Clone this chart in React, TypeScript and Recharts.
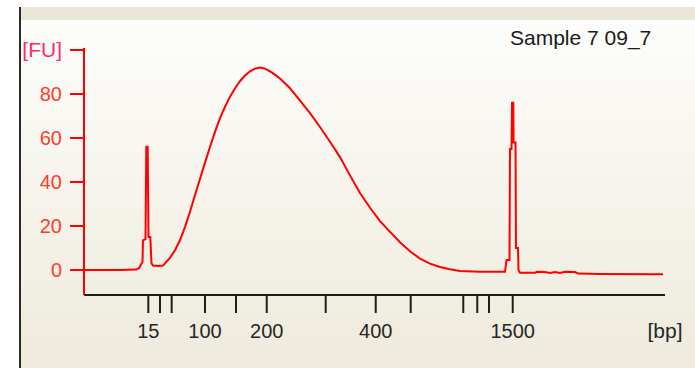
import React from 'react';
import { LineChart, Line, XAxis, YAxis, Label } from 'recharts';

// Ladder (bp) sizes and their migration positions (time units along the x axis)
const ladderSizes = [15, 25, 50, 100, 150, 200, 300, 400, 500, 700, 850, 1000, 1500];
const ladderTimes = [11.07, 13.08, 15.09, 20.83, 26.16, 31.45, 41.6, 50.21, 56.23, 65.28, 67.69, 69.71, 73.79];
const labeledSizes = [15, 100, 200, 400, 1500];
const fuTicks = [0, 20, 40, 60, 80, 100];

// Electropherogram trace: migration time and fluorescence units
const times = [
  0, 2.75, 6.2, 8.95, 9.47, 9.81, 10.07, 10.15, 10.59, 10.72, 10.96, 11.1, 11.41, 11.62, 11.88,
  12.74, 13.6, 13.94, 14.8, 15.66, 16.52, 17.38, 18.24, 19.1, 19.97, 20.83, 21.69, 22.55, 23.41,
  24.27, 25.13, 25.99, 26.85, 27.71, 28.57, 29.43, 30.29, 31.15, 32.01, 32.87, 33.73, 35.46, 37.18,
  38.9, 40.62, 42.34, 44.06, 45.78, 47.5, 49.23, 50.95, 52.67, 54.39, 56.11, 57.83, 59.55, 61.27,
  62.99, 64.72, 68.16,
  72.46, 72.72, 73.24, 73.32, 73.58, 73.67, 73.89, 73.94, 74.27, 74.35, 74.7, 74.78, 75.04, 77.62,
  77.97, 79.35, 80.21, 81.07, 81.93, 82.79, 84.51, 85.03, 88.81, 99.66,
];
const fuValues = [
  0, 0, 0, 0.2, 0.8, 2.5, 3.5, 13.5, 14, 56, 56, 15, 15, 3, 2,
  1.8, 2, 3, 5.5, 9, 13.5, 19.5, 26.5, 34, 41.5, 48.8, 56, 62.8, 69,
  74.2, 78.8, 82.6, 85.8, 88.4, 90.3, 91.5, 92, 91.5, 90.3, 88.8, 87, 82.6, 77,
  71.3, 65, 58.3, 51.3, 43, 35, 28.3, 22.2, 17.3, 12.6, 8.5, 5.2, 2.9, 1.4,
  0.3, -0.5, -0.8,
  -0.8, 4.5, 4.5, 55, 55, 76, 76, 58, 58, 10, 10, 0, -1.3, -1.3,
  -0.8, -0.9, -1.3, -0.9, -1.3, -0.8, -0.9, -1.6, -1.8, -1.9,
];

const data = times.map((t, i) => ({ t, fu: fuValues[i] }));

const FONT = '"Liberation Sans", Arial, sans-serif';

const YTick = (props: any) => {
  const { x, y, payload } = props;
  const isTop = payload.value === 100;
  return (
    <text
      x={x}
      y={y}
      dy="0.355em"
      textAnchor="end"
      fontFamily={FONT}
      fontSize={isTop ? 21 : 20}
      fill={isTop ? '#ff2a6a' : '#ff3c28'}
    >
      {isTop ? '[FU]' : String(payload.value)}
    </text>
  );
};

const XTick = (props: any) => {
  const { x, y, payload } = props;
  const idx = ladderTimes.indexOf(payload.value);
  const size = idx >= 0 ? ladderSizes[idx] : null;
  const label = size !== null && labeledSizes.includes(size) ? String(size) : '';
  return (
    <text x={x} y={y} dy="0.71em" textAnchor="middle" fontFamily={FONT} fontSize={20} fill="#262626">
      {label}
    </text>
  );
};

export default function App() {
  return (
    <div style={{ position: 'absolute', left: 0, top: 0, width: 695, height: 368, background: '#ffffff', overflow: 'hidden' }}>
      <div style={{ position: 'absolute', left: 21, top: 7, width: 674, height: 13, background: '#ebe7d8' }} />
      <div style={{ position: 'absolute', left: 21, top: 20, width: 674, height: 348, background: 'linear-gradient(#fdfdfb, #eeeadc)' }} />
      <div style={{ position: 'absolute', left: 19, top: 7, width: 2, height: 361, background: '#2a2a2a' }} />
      <div
        style={{
          position: 'absolute',
          left: 510,
          top: 27,
          fontFamily: FONT,
          fontSize: 21,
          lineHeight: '1',
          color: '#1a1a1a',
          whiteSpace: 'nowrap',
        }}
      >
        Sample 7 09_7
      </div>
      <div style={{ position: 'absolute', left: 0, top: 0 }}>
        <LineChart width={695} height={368} data={data} margin={{ top: 48, right: 30, bottom: 17, left: 20 }}>
          <XAxis
            type="number"
            dataKey="t"
            domain={[0, 100]}
            ticks={ladderTimes}
            interval={0}
            allowDataOverflow
            height={56}
            tickSize={18}
            tickMargin={11}
            axisLine={{ stroke: '#1e1e1e', strokeWidth: 2 }}
            tickLine={{ stroke: '#1e1e1e', strokeWidth: 2 }}
            tick={<XTick />}
          >
            <Label
              content={(p: any) => {
                const vb = p.viewBox || { x: 84, y: 295, width: 581, height: 56 };
                return (
                  <text x={vb.x + vb.width} y={vb.y + 43} textAnchor="middle" fontFamily={FONT} fontSize={21} fill="#262626">
                    [bp]
                  </text>
                );
              }}
            />
          </XAxis>
          <YAxis
            type="number"
            domain={[-11.36, 100.9]}
            ticks={fuTicks}
            interval={0}
            allowDataOverflow
            width={64}
            tickSize={14}
            tickMargin={8}
            axisLine={{ stroke: '#ff0000', strokeWidth: 2 }}
            tickLine={{ stroke: '#ff0000', strokeWidth: 2 }}
            tick={<YTick />}
          />
          <Line
            type="linear"
            dataKey="fu"
            stroke="#ff0000"
            strokeWidth={2}
            dot={false}
            activeDot={false}
            isAnimationActive={false}
          />
        </LineChart>
      </div>
    </div>
  );
}
